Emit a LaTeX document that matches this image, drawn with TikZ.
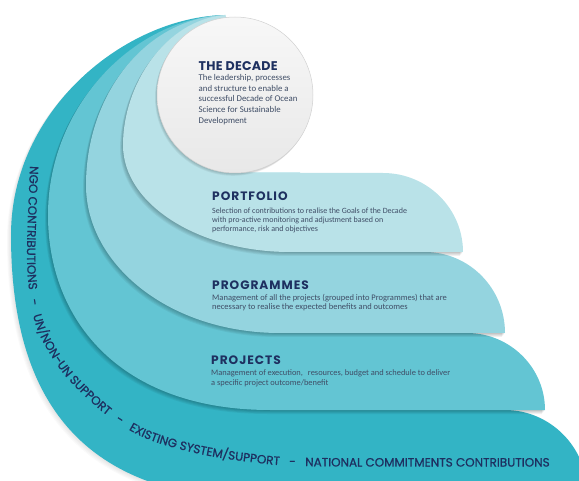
\documentclass[tikz,border=0pt]{standalone}
\usepackage{fontspec}
\setmainfont{Carlito}
\newfontfamily\headfont{Poppins}[LetterSpace=8]
\newfontfamily\titlefont{Poppins}[LetterSpace=2]
\newfontfamily\curvefontfam{Poppins}[FakeBold=0.8]
\usetikzlibrary{decorations.text}
\definecolor{layA}{HTML}{33B4C5}
\definecolor{layB}{HTML}{63C5D3}
\definecolor{layC}{HTML}{94D4DF}
\definecolor{layD}{HTML}{B9E2E8}
\definecolor{navy}{HTML}{1E3060}
\definecolor{bodyc}{HTML}{3F4D66}
\newcommand{\txtlines}[2]{\parbox[t]{#1}{\raggedright #2}}
\newcommand{\curvefont}{\curvefontfam\fontsize{12}{14}\selectfont}
\def\pathA{(225,15) .. controls (125,17) and (11,110) .. (11,235) .. controls (11,410) and (90,500) .. (270,500) -- (587,500) -- (587,492) .. controls (587,447) and (550,410) .. (505,410) -- (300,410) -- (300,173) -- (235,173) -- (235,95) -- cycle}
\def\pathB{(225,15) .. controls (135,18) and (48,105) .. (48,215) .. controls (48,320) and (120,410) .. (270,410) -- (545,410) .. controls (545,367.5) and (510,333) .. (467,333) -- (300,333) -- (300,173) -- (235,173) -- (235,95) -- cycle}
\def\pathC{(225,15) .. controls (145,18) and (86,95) .. (86,185) .. controls (86,265) and (170,333) .. (280,333) -- (505,333) .. controls (505,288.3) and (469.2,252) .. (425,252) -- (300,252) -- (300,173) -- (235,173) -- (235,95) -- cycle}
\def\pathD{(225,15) .. controls (165,20) and (123,85) .. (123,145) .. controls (123,205) and (200,252) .. (290,252) -- (463,252) .. controls (463,208.4) and (427.2,173) .. (383,173) -- (235,173) -- (235,95) -- cycle}
\begin{document}
\begin{tikzpicture}[x=1pt,y=-1pt,
  headtxt/.style={anchor=base west, inner sep=0pt, text=navy, font=\headfont\bfseries\fontsize{12.2}{13}\selectfont},
  bodytxt/.style={anchor=base west, inner sep=0pt, text=bodyc},
  shad/.style={black, opacity=0.05}]
\useasboundingbox (0,0) rectangle (579,481);
\clip (0,0) rectangle (579,481);
% outer layer and its soft shadow on the background
\foreach \k in {1,...,5}{\fill[black, opacity=0.02, shift={(-0.8*\k,0.8*\k)}] \pathA;}
\fill[layA] \pathA;
\foreach \k in {1,...,5}{\fill[shad, shift={(-0.6*\k,0.8*\k)}] \pathB;}
\fill[layB] \pathB;
\foreach \k in {1,...,5}{\fill[shad, shift={(-0.6*\k,0.8*\k)}] \pathC;}
\fill[layC] \pathC;
\foreach \k in {1,...,5}{\fill[shad, shift={(-0.6*\k,0.8*\k)}] \pathD;}
\fill[layD] \pathD;
\foreach \k in {1,...,4}{\fill[shad, shift={(-0.5*\k,0.7*\k)}] (235,95) circle[radius=78];}
\node[circle, minimum size=156pt, inner sep=0pt, outer sep=0pt, draw=black!18, line width=0.5pt,
      top color=black!3, bottom color=black!9] (decade) at (235,95) {};
% texts
\node[headtxt, font=\titlefont\bfseries\fontsize{12.6}{14}\selectfont] (dectitle) at (198.5,70.7) {THE DECADE};
\node[bodytxt] (decbody) at (198.5,80.5) {\fontsize{8.8}{10.7}\selectfont\txtlines{140pt}{The leadership, processes\\and structure to enable a\\successful Decade of Ocean\\Science for Sustainable\\Development}};
\node[headtxt] (porttitle) at (212,200.7) {PORTFOLIO};
\node[bodytxt] (portbody) at (212,214) {\fontsize{8}{9}\selectfont\txtlines{280pt}{Selection of contributions to realise the Goals of the Decade\\with pro-active monitoring and adjustment based on\\performance, risk and objectives}};
\node[headtxt] (progtitle) at (212,290) {PROGRAMMES};
\node[bodytxt] (progbody) at (212,300.5) {\fontsize{8.5}{9.3}\selectfont\txtlines{300pt}{Management of all the projects (grouped into Programmes) that are\\necessary to realise the expected benefits and outcomes}};
\node[headtxt] (projtitle) at (211,365) {PROJECTS};
\node[bodytxt] (projbody) at (211,376) {\fontsize{8.4}{9.5}\selectfont\txtlines{300pt}{Management of execution,\hspace{5pt}resources, budget and schedule to deliver\\a specific project outcome/benefit}};
% curved text
\path[decorate, decoration={text along path, text color=navy, text align=left,
  text={|\curvefont|NGO CONTRIBUTIONS{\hspace{9.5pt}-\hspace{9.5pt}}UN/NON-UN SUPPORT{\hspace{9.5pt}-\hspace{9.5pt}}EXISTING SYSTEM/SUPPORT{\hspace{9.5pt}-\hspace{9.5pt}}NATIONAL COMMITMENTS CONTRIBUTIONS}}]
  plot[smooth, tension=0.6] coordinates {(30,166) (27,250) (29,290) (33,315) (42,340) (63,373) (88,399) (115,421) (150,440) (200,454) (250,462) (300,466) (420,466.5) (575,466.5)};
\end{tikzpicture}
\end{document}
